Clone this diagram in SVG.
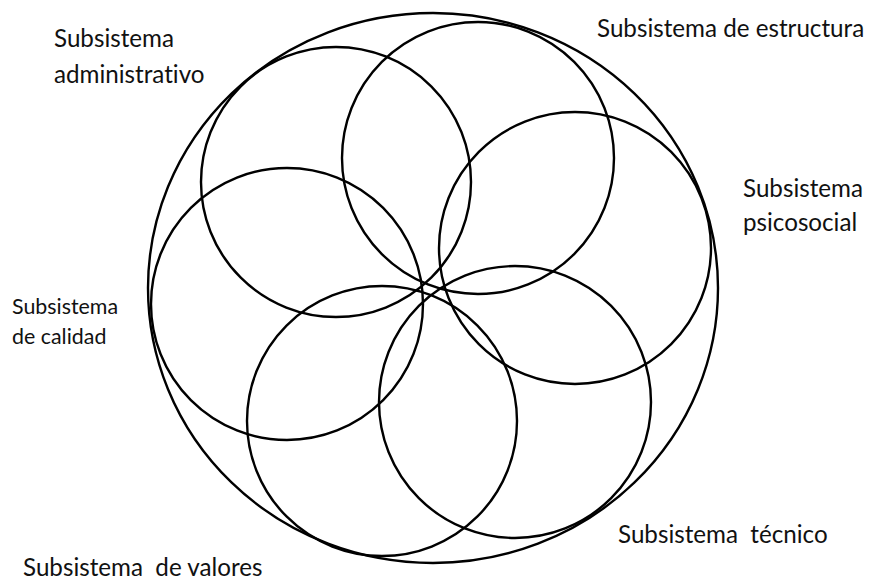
<svg xmlns="http://www.w3.org/2000/svg" width="869" height="580" viewBox="0 0 869 580">
<style>
.c{fill:none;stroke:#000;stroke-width:2.4}
.t{font-family:Lato,"Open Sans","Liberation Sans",sans-serif;font-size:24.2px;fill:#111;font-variant-ligatures:none}
.s{font-size:21.4px}
</style>
<rect width="869" height="580" fill="#fff"/>
<g id="outer"><ellipse class="c" cx="433" cy="288" rx="285" ry="275"/></g>
<g id="administrativo"><circle class="c" cx="336" cy="182" r="135"/>
<text class="t" x="54" y="47">Subsistema</text><text class="t" x="54" y="83">administrativo</text></g>
<g id="estructura"><circle class="c" cx="478" cy="158" r="136"/>
<text class="t" x="597" y="37">Subsistema de estructura</text></g>
<g id="psicosocial"><circle class="c" cx="575" cy="248" r="136"/>
<text class="t" x="743" y="197">Subsistema</text><text class="t" x="743" y="231">psicosocial</text></g>
<g id="tecnico"><circle class="c" cx="515" cy="402" r="136"/>
<text class="t" x="618" y="543" xml:space="preserve">Subsistema  técnico</text></g>
<g id="valores"><circle class="c" cx="382" cy="421" r="135"/>
<text class="t" x="23" y="576" xml:space="preserve">Subsistema  de valores</text></g>
<g id="calidad"><circle class="c" cx="287" cy="304" r="136"/>
<text class="t s" x="12" y="314">Subsistema</text><text class="t s" x="12" y="344">de calidad</text></g>
</svg>
